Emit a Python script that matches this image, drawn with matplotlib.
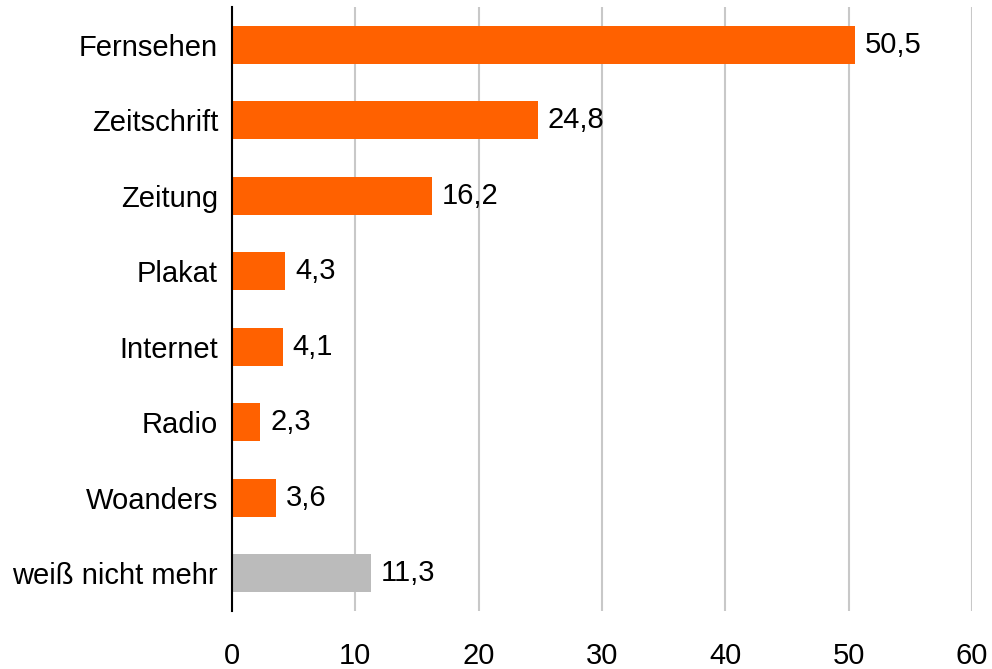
import matplotlib.pyplot as plt

categories = ['Fernsehen', 'Zeitschrift', 'Zeitung', 'Plakat', 'Internet',
              'Radio', 'Woanders', 'weiß nicht mehr']
values = [50.5, 24.8, 16.2, 4.3, 4.1, 2.3, 3.6, 11.3]
bar_colors = ['#FF6100'] * 7 + ['#BBBBBB']
xticks = [0, 10, 20, 30, 40, 50, 60]

plt.rcParams['font.family'] = ['Liberation Sans', 'DejaVu Sans']

fig = plt.figure(figsize=(9.92, 6.69), dpi=100)
ax = fig.add_axes([232 / 992, 1 - 611 / 669, 740 / 992, 604 / 669])

pos = list(range(len(categories)))
ax.barh(pos, values, height=0.5, color=bar_colors, zorder=3)
for p, v in zip(pos, values):
    ax.text(v + 0.8, p, f'{v:.1f}'.replace('.', ','), va='center', ha='left',
            fontsize=21, color='black')

ax.set_xlim(0, 60)
ax.set_ylim(len(categories) - 0.5, -0.5)
ax.set_yticks(pos)
ax.set_yticklabels(categories, fontsize=21)
ax.set_xticks(xticks)
ax.set_xticklabels([str(t) for t in xticks], fontsize=21)
ax.tick_params(axis='x', length=0, pad=22)
ax.tick_params(axis='y', length=0, pad=10)
ax.grid(axis='x', color='#C8C8C8', linewidth=1.5, zorder=0)
for s in ['top', 'right', 'bottom']:
    ax.spines[s].set_visible(False)
ax.spines['left'].set_linewidth(1.5)
ax.spines['left'].set_zorder(4)

fig.savefig('out.png', dpi=100)
